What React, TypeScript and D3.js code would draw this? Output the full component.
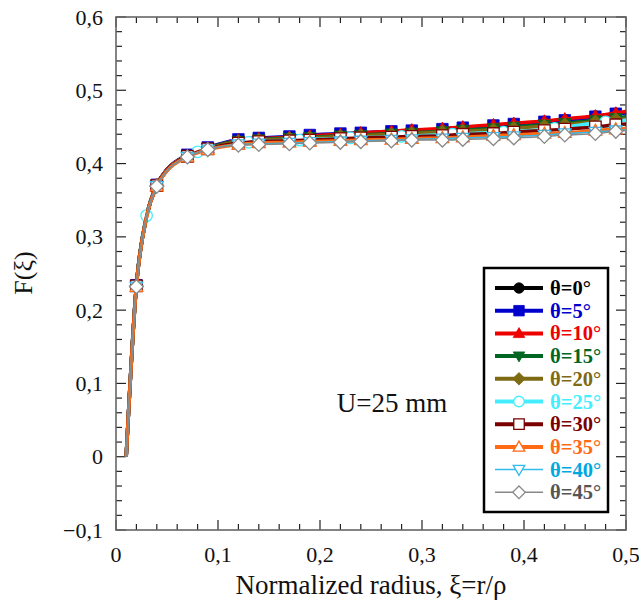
import React from "react";
import * as d3 from "d3";

const W = 639;
const H = 604;

const xs = [0.01, 0.02, 0.03, 0.04, 0.05, 0.07, 0.09, 0.12, 0.14, 0.17, 0.19, 0.22, 0.24, 0.27, 0.29, 0.32, 0.34, 0.37, 0.39, 0.42, 0.44, 0.47, 0.49, 0.5];
const markerXs = [0.02, 0.04, 0.07, 0.09, 0.12, 0.14, 0.17, 0.19, 0.22, 0.24, 0.27, 0.29, 0.32, 0.34, 0.37, 0.39, 0.42, 0.44, 0.47, 0.49];

const xs25 = [0.01, 0.02, 0.03, 0.04, 0.05, 0.07, 0.08, 0.09, 0.13, 0.18, 0.23, 0.28, 0.33, 0.38, 0.43, 0.48, 0.5];
const markerXs25 = [0.03, 0.08, 0.13, 0.18, 0.23, 0.28, 0.33, 0.38, 0.43, 0.48];

const v0 = [0, 0.234, 0.328, 0.371, 0.392, 0.411, 0.421, 0.432, 0.434, 0.436, 0.438, 0.440, 0.441, 0.443, 0.444, 0.446, 0.448, 0.451, 0.453, 0.457, 0.459, 0.464, 0.468, 0.470];
const v5 = [0, 0.234, 0.328, 0.371, 0.392, 0.412, 0.422, 0.433, 0.435, 0.437, 0.439, 0.441, 0.442, 0.444, 0.445, 0.447, 0.449, 0.452, 0.454, 0.457, 0.459, 0.464, 0.468, 0.469];
const v10 = [0, 0.234, 0.328, 0.371, 0.392, 0.411, 0.421, 0.432, 0.434, 0.436, 0.438, 0.440, 0.442, 0.444, 0.446, 0.448, 0.450, 0.453, 0.455, 0.458, 0.461, 0.465, 0.469, 0.471];
const v15 = [0, 0.234, 0.328, 0.370, 0.391, 0.411, 0.421, 0.431, 0.433, 0.435, 0.436, 0.438, 0.439, 0.441, 0.442, 0.444, 0.446, 0.448, 0.450, 0.453, 0.455, 0.459, 0.462, 0.464];
const v20 = [0, 0.233, 0.328, 0.370, 0.391, 0.410, 0.420, 0.430, 0.432, 0.434, 0.435, 0.437, 0.438, 0.440, 0.441, 0.443, 0.444, 0.446, 0.448, 0.451, 0.453, 0.457, 0.460, 0.461];
const v25 = [0, 0.233, 0.329, 0.370, 0.391, 0.410, 0.416, 0.420, 0.429, 0.432, 0.435, 0.437, 0.440, 0.443, 0.448, 0.457, 0.459];
const v30 = [0, 0.233, 0.328, 0.370, 0.391, 0.410, 0.420, 0.428, 0.430, 0.431, 0.432, 0.434, 0.435, 0.436, 0.437, 0.438, 0.440, 0.441, 0.443, 0.445, 0.447, 0.450, 0.453, 0.454];
const v35 = [0, 0.232, 0.327, 0.369, 0.390, 0.409, 0.419, 0.426, 0.428, 0.429, 0.430, 0.431, 0.432, 0.433, 0.434, 0.435, 0.436, 0.438, 0.439, 0.441, 0.442, 0.445, 0.447, 0.448];
const v40 = [0, 0.232, 0.327, 0.369, 0.390, 0.409, 0.419, 0.426, 0.427, 0.428, 0.429, 0.430, 0.431, 0.432, 0.433, 0.434, 0.435, 0.436, 0.437, 0.439, 0.441, 0.443, 0.445, 0.446];
const v45 = [0, 0.232, 0.327, 0.369, 0.390, 0.409, 0.419, 0.425, 0.426, 0.427, 0.428, 0.429, 0.430, 0.431, 0.432, 0.432, 0.433, 0.434, 0.435, 0.437, 0.439, 0.441, 0.444, 0.445];

const seriesLabels = ["θ=0°", "θ=5°", "θ=10°", "θ=15°", "θ=20°", "θ=25°", "θ=30°", "θ=35°", "θ=40°", "θ=45°"];
const lineColors = ["#000000", "#0000cc", "#ee0000", "#006622", "#7d6a12", "#44eeff", "#7a0000", "#ff6a14", "#33bbee", "#888888"];
const textColors = ["#000000", "#0000cc", "#ee0000", "#006622", "#7d6a12", "#44eeff", "#7a0000", "#ff6a14", "#00a8e0", "#555555"];
const markerShapes = ["circle", "square", "triUp", "triDown", "diamond", "circle", "square", "triUp", "triDown", "diamond"];
const markerFilled = [true, true, true, true, true, false, false, false, false, false];
const lineWidths = [3.5, 3.5, 3.5, 3.5, 3.5, 3.5, 3.5, 3.5, 1.5, 1.5];

const xTicks = [0, 0.1, 0.2, 0.3, 0.4, 0.5];
const yTicks = [-0.1, 0, 0.1, 0.2, 0.3, 0.4, 0.5, 0.6];

const L = 116, R = 626, T = 17, B = 530;

function markerPath(shape: string, s: number): string {
  const h = s / 2;
  switch (shape) {
    case "square":
      return `M${-h},${-h}H${h}V${h}H${-h}Z`;
    case "triUp":
      return `M0,${-h * 1.1}L${h * 1.1},${h * 0.8}L${-h * 1.1},${h * 0.8}Z`;
    case "triDown":
      return `M0,${h * 1.1}L${h * 1.1},${-h * 0.8}L${-h * 1.1},${-h * 0.8}Z`;
    case "diamond":
      return `M0,${-h * 1.2}L${h * 1.2},0L0,${h * 1.2}L${-h * 1.2},0Z`;
    default:
      return "";
  }
}

function Marker({ shape, filled, color, x, y, s }: any) {
  const fill = filled ? color : "#ffffff";
  const sw = filled ? 0.8 : 1.3;
  if (shape === "circle") {
    return <circle cx={x} cy={y} r={s / 2} fill={fill} stroke={color} strokeWidth={sw} />;
  }
  return <path d={markerPath(shape, s)} transform={`translate(${x},${y})`} fill={fill} stroke={color} strokeWidth={sw} />;
}

export default function App() {
  const x = d3.scaleLinear().domain([0, 0.5]).range([L, R]);
  const y = d3.scaleLinear().domain([-0.1, 0.6]).range([B, T]);
  const series = [v0, v5, v10, v15, v20, v25, v30, v35, v40, v45];

  const line = d3
    .line<[number, number]>()
    .x((d) => x(d[0]))
    .y((d) => y(d[1]))
    .curve(d3.curveMonotoneX);

  const xMinor = d3.range(0, 51, 2).map((i) => i / 100);
  const yMinor = d3.range(-10, 61, 2).map((i) => i / 100);
  const fmt = (v: number) => (Math.abs(v) < 1e-9 ? "0" : d3.format(".1f")(v).replace(".", ","));

  const legX = 484, legY = 268, legW = 124, legH = 244;
  const rowY0 = 288, rowDy = 22.7;

  return (
    <svg width={W} height={H} style={{ position: "absolute", left: 0, top: 0 }} fontFamily="'Liberation Serif', 'Times New Roman', serif">
      <rect x={0} y={0} width={W} height={H} fill="#ffffff" />
      {/* ticks */}
      <g stroke="#222" strokeWidth={1.2}>
        {xMinor.map((v, i) => {
          const major = Math.abs(v * 10 - Math.round(v * 10)) < 1e-6;
          const len = major ? 10 : 6;
          return (
            <g key={"xt" + i}>
              <line x1={x(v)} x2={x(v)} y1={B} y2={B - len} />
              <line x1={x(v)} x2={x(v)} y1={T} y2={T + len} />
            </g>
          );
        })}
        {yMinor.map((v, i) => {
          const major = Math.abs(v * 10 - Math.round(v * 10)) < 1e-6;
          const len = major ? 10 : 6;
          return (
            <g key={"yt" + i}>
              <line x1={L} x2={L + len} y1={y(v)} y2={y(v)} />
              <line x1={R} x2={R - len} y1={y(v)} y2={y(v)} />
            </g>
          );
        })}
      </g>
      <rect x={L} y={T} width={R - L} height={B - T} fill="none" stroke="#666" strokeWidth={1.6} />

      {/* tick labels */}
      {xTicks.map((v) => (
        <text key={"xl" + v} x={x(v)} y={562} fontSize={22} textAnchor="middle" fill="#111">
          {fmt(v)}
        </text>
      ))}
      {yTicks.map((v) => (
        <text key={"yl" + v} x={103} y={y(v) + 7.5} fontSize={22} textAnchor="end" fill="#111">
          {fmt(v)}
        </text>
      ))}
      <text x={371} y={594} fontSize={27} textAnchor="middle" fill="#111">
        Normalized radius, ξ=r/ρ
      </text>
      <text transform={`translate(32,273) rotate(-90)`} fontSize={26} textAnchor="middle" fill="#111">
        F(ξ)
      </text>

      {/* series */}
      {series.map((vals, si) => {
        const sx = si === 5 ? xs25 : xs;
        const mx = si === 5 ? markerXs25 : markerXs;
        const pts: [number, number][] = sx.map((xv, i) => [xv, vals[i]]);
        return (
          <g key={"s" + si}>
            <path d={line(pts) || ""} fill="none" stroke={lineColors[si]} strokeWidth={lineWidths[si]} />
            {pts
              .filter((p) => mx.some((m) => Math.abs(m - p[0]) < 1e-9))
              .map((p, i) => (
                <Marker key={i} shape={markerShapes[si]} filled={markerFilled[si]} color={lineColors[si]} x={x(p[0])} y={y(p[1])} s={11.5} />
              ))}
          </g>
        );
      })}

      <text x={392} y={412} fontSize={27} textAnchor="middle" fill="#111">
        U=25 mm
      </text>

      {/* legend */}
      <rect x={legX} y={legY} width={legW} height={legH} fill="#ffffff" stroke="#000" strokeWidth={2.5} />
      {seriesLabels.map((lab, i) => {
        const ry = rowY0 + i * rowDy;
        return (
          <g key={"lg" + i}>
            <line x1={495} x2={543} y1={ry} y2={ry} stroke={lineColors[i]} strokeWidth={lineWidths[i] === 1.5 ? 1.5 : 4} />
            <Marker shape={markerShapes[i]} filled={markerFilled[i]} color={lineColors[i]} x={519} y={ry} s={10.5} />
            <text x={550} y={ry + 7} fontSize={20.5} fontWeight="bold" fill={textColors[i]}>
              {lab}
            </text>
          </g>
        );
      })}
    </svg>
  );
}
